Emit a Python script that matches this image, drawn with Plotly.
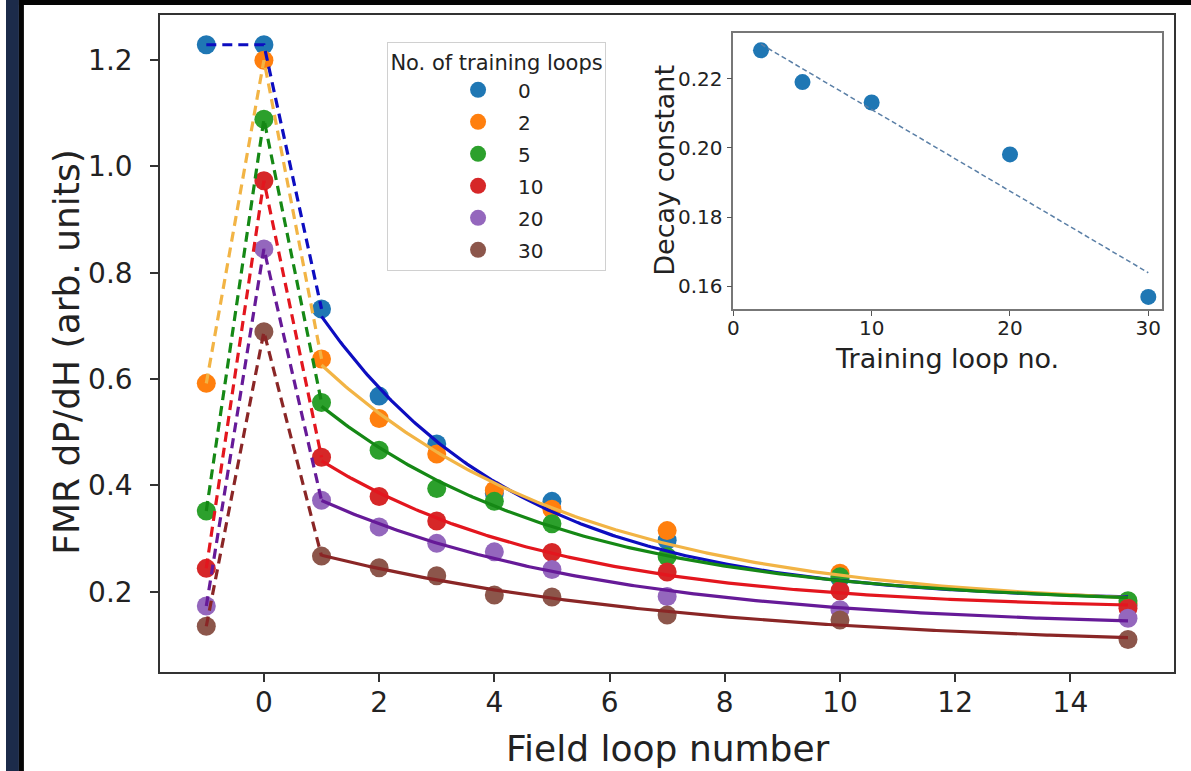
import numpy as np
import plotly.graph_objects as go

# ---- main panel data: FMR signal vs field loop, one series per training-loop count
field_loops = [-1, 0, 1, 2, 3, 4, 5, 7, 10, 15]
training_loops = ["0", "2", "5", "10", "20", "30"]

fmr_0 = [1.229, 1.229, 0.732, 0.568, 0.478, 0.385, 0.370, 0.297, 0.225, 0.175]
fmr_2 = [0.592, 1.200, 0.638, 0.526, 0.459, 0.391, 0.355, 0.315, 0.235, 0.178]
fmr_5 = [0.352, 1.089, 0.556, 0.466, 0.394, 0.370, 0.328, 0.266, 0.228, 0.183]
fmr_10 = [0.244, 0.973, 0.453, 0.379, 0.333, None, 0.274, 0.237, 0.202, 0.169]
fmr_20 = [0.173, 0.845, 0.372, 0.322, 0.291, 0.275, 0.242, 0.191, 0.166, 0.150]
fmr_30 = [0.135, 0.689, 0.267, 0.245, 0.230, 0.194, 0.190, 0.156, 0.147, 0.110]

# ---- inset data: fitted decay constant vs training loop
decay_loops = [2, 5, 10, 20, 30]
decay_constants = [0.2282, 0.2190, 0.2131, 0.1981, 0.1569]

series = [fmr_0, fmr_2, fmr_5, fmr_10, fmr_20, fmr_30]
marker_colors = ["#1f77b4", "#ff7f0e", "#2ca02c", "#d62728", "#9467bd", "#8c564b"]
line_colors = ["#0d0dc0", "#f2b445", "#158815", "#e3161e", "#661a98", "#8a2626"]

FONT = "DejaVu Sans"
W, H = 1191, 771


def px_x(p):
    return p / W


def px_y(p):
    return 1 - p / H


def fit_decay(xs, ys):
    """Least-squares fit of y = A*exp(-k*x) + C, scanning k."""
    xs = np.asarray(xs, float)
    ys = np.asarray(ys, float)
    best = None
    for k in np.linspace(0.02, 1.5, 1481):
        M = np.column_stack([np.exp(-k * xs), np.ones_like(xs)])
        coef, *_ = np.linalg.lstsq(M, ys, rcond=None)
        r = np.sum((M @ coef - ys) ** 2)
        if best is None or r < best[0]:
            best = (r, k, coef)
    _, k, (a, c) = best
    return k, a, c


fig = go.Figure()

# scatter markers (drawn first, lines sit on top of them)
for name, ys, mc in zip(training_loops, series, marker_colors):
    fig.add_trace(go.Scatter(
        x=field_loops, y=ys, mode="markers", name=name, legendgroup=name,
        marker=dict(color=mc, size=19, line=dict(width=0)),
        xaxis="x", yaxis="y",
    ))

# dashed connectors over the first three field loops
for ys, lc in zip(series, line_colors):
    fig.add_trace(go.Scatter(
        x=field_loops[:3], y=ys[:3], mode="lines", showlegend=False,
        line=dict(color=lc, width=3.2, dash="10px,6px"),
        hoverinfo="skip", xaxis="x", yaxis="y",
    ))

# exponential-decay fits from field loop 1 onwards
x_curve = np.linspace(1, 15, 300)
for ys, lc in zip(series, line_colors):
    pts = [(x, y) for x, y in zip(field_loops, ys) if x >= 1 and y is not None]
    k, a, c = fit_decay([p[0] for p in pts], [p[1] for p in pts])
    fig.add_trace(go.Scatter(
        x=x_curve, y=a * np.exp(-k * x_curve) + c, mode="lines", showlegend=False,
        line=dict(color=lc, width=3.2), hoverinfo="skip", xaxis="x", yaxis="y",
    ))

# inset: decay constant with linear trend
fig.add_trace(go.Scatter(
    x=decay_loops, y=decay_constants, mode="markers", showlegend=False,
    marker=dict(color="#1f77b4", size=16), xaxis="x2", yaxis="y2",
))
slope, intercept = np.polyfit(decay_loops, decay_constants, 1)
trend_x = np.array([decay_loops[0], decay_loops[-1]], float)
fig.add_trace(go.Scatter(
    x=trend_x, y=slope * trend_x + intercept, mode="lines", showlegend=False,
    line=dict(color="#5a7fa6", width=1.5, dash="5px,3px"),
    hoverinfo="skip", xaxis="x2", yaxis="y2",
))

axis_common = dict(
    showline=True, mirror=True, linecolor="#333333", linewidth=2,
    ticks="outside", ticklen=8, tickwidth=2, tickcolor="#333333",
    showgrid=False, zeroline=False,
    tickfont=dict(family=FONT, size=28, color="#222222"),
)
inset_common = dict(
    showline=True, mirror=True, linecolor="#777777", linewidth=1.5,
    ticks="outside", ticklen=5, tickwidth=1.2, tickcolor="#555555",
    showgrid=False, zeroline=False,
    tickfont=dict(family=FONT, size=20, color="#222222"),
)

fig.update_layout(
    width=W, height=H,
    margin=dict(l=0, r=0, t=0, b=0),
    paper_bgcolor="white", plot_bgcolor="white",
    font=dict(family=FONT, color="#222222"),
    xaxis=dict(axis_common, domain=[px_x(155), px_x(1174)], range=[-1.8, 15.8],
               tickvals=[0, 2, 4, 6, 8, 10, 12, 14], ticklabelstandoff=-4, anchor="y"),
    yaxis=dict(axis_common, domain=[px_y(672), px_y(15)], range=[0.049, 1.285],
               tickvals=[0.2, 0.4, 0.6, 0.8, 1.0, 1.2], tickformat=".1f",
               ticklabelstandoff=12, anchor="x"),
    xaxis2=dict(inset_common, domain=[px_x(731), px_x(1162)], range=[0, 31],
                tickvals=[0, 10, 20, 30], ticklabelstandoff=-5, anchor="y2"),
    yaxis2=dict(inset_common, domain=[px_y(309), px_y(33)], range=[0.1534, 0.2332],
                tickvals=[0.16, 0.18, 0.20, 0.22], tickformat=".2f", anchor="x2"),
    legend=dict(
        x=px_x(383), y=px_y(42), xanchor="left", yanchor="top",
        bgcolor="white", bordercolor="#d0d0d0", borderwidth=1,
        font=dict(family=FONT, size=20, color="#222222"),
        title=dict(text="No. of training loops", side="top center",
                   font=dict(family=FONT, size=21, color="#222222")),
        itemwidth=70, indentation=50, tracegroupgap=3,
    ),
    annotations=[
        dict(text="Field loop number", x=px_x(665), y=px_y(748), xref="paper", yref="paper",
             showarrow=False, font=dict(family=FONT, size=36, color="#222222"),
             xanchor="center", yanchor="middle"),
        dict(text="FMR dP/dH (arb. units)", x=px_x(61), y=px_y(352), xref="paper", yref="paper",
             showarrow=False, textangle=-90, font=dict(family=FONT, size=36, color="#222222"),
             xanchor="center", yanchor="middle"),
        dict(text="Training loop no.", x=px_x(946), y=px_y(358), xref="paper", yref="paper",
             showarrow=False, font=dict(family=FONT, size=27, color="#222222"),
             xanchor="center", yanchor="middle"),
        dict(text="Decay constant", x=px_x(661), y=px_y(170), xref="paper", yref="paper",
             showarrow=False, textangle=-90, font=dict(family=FONT, size=27, color="#222222"),
             xanchor="center", yanchor="middle"),
    ],
    shapes=[
        dict(type="rect", xref="paper", yref="paper", x0=0, x1=px_x(13), y0=0, y1=1,
             fillcolor="#1c2b4a", line=dict(width=0), layer="above"),
        dict(type="rect", xref="paper", yref="paper", x0=px_x(13), x1=px_x(18), y0=0, y1=1,
             fillcolor="#050505", line=dict(width=0), layer="above"),
        dict(type="rect", xref="paper", yref="paper", x0=px_x(13), x1=1, y0=px_y(5), y1=1,
             fillcolor="#050505", line=dict(width=0), layer="above"),
    ],
)

fig.write_html("out.html")
